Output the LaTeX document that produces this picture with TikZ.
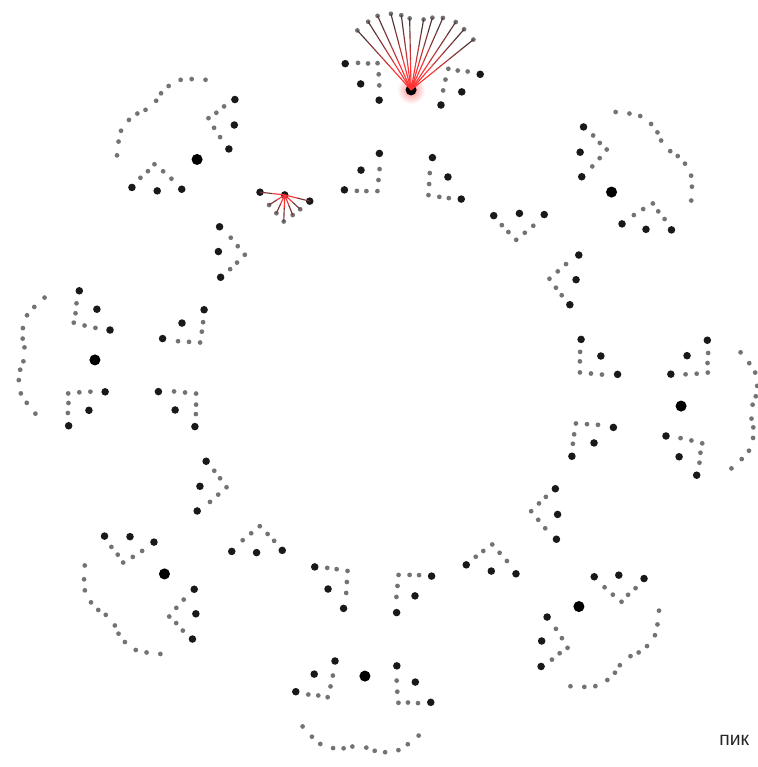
\documentclass[tikz,border=0pt]{standalone}
\usepackage{fontspec}
\newfontfamily\cyrfont{Liberation Sans}
\usetikzlibrary{calc}
\begin{document}
\begin{tikzpicture}[x=0.02cm,y=0.02cm,every node/.style={circle,inner sep=0pt},
  sdot/.style={fill=black!55,minimum size=2.7pt},
  bdot/.style={fill=black!90,minimum size=4.3pt},
  cdot/.style={fill=black,minimum size=6.3pt},
  thread/.style={line width=0.65pt}]
\useasboundingbox (-388,-384) rectangle (369,383);
\shade[inner color=red!45,outer color=white] (85.5:294) circle (8pt);
% eight petals, each mirrored about its own ray
\foreach \k [evaluate=\k as \ang using 85.5-45*\k] in {0,...,7}{
  \begin{scope}[rotate=\ang]
    \node[cdot] (c\k) at (294,0) {};
    \foreach \s/\n in {1/p,-1/m}{
      \begin{scope}[yscale=\s]
        % outer arc
        \foreach \u/\v [count=\i] in {349.1/58.2,358.6/48.1,365.2/39.2,368.3/26.1,367.7/15.6,365.2/7}
          \node[sdot] (a\k\n\i) at (\u,\v) {};
        % outer corner
        \foreach \u/\v/\st [count=\i] in {318/35.5/sdot,307/33.5/sdot,296/32/sdot,281.3/31/bdot,
            317/45/sdot,316.8/55/sdot,315/67.7/bdot,296/50.7/bdot}
          \node[\st] (o\k\n\i) at (\u,\v) {};
        % inner corner
        \node[bdot] (h\k\n) at (210.1,43.6) {};
        \foreach \u/\v/\st [count=\i] in {190.5/25.6/sdot,201.6/25.4/sdot,212.6/25.2/sdot,228.2/26.6/bdot,
            189.6/36.6/sdot,189.1/46.1/sdot,189.1/58.6/bdot}
          \node[\st] (l\k\n\i) at (\u,\v) {};
      \end{scope}
    }
  \end{scope}
}
% threads
\foreach \n in {p,m}
  \foreach \i in {1,...,6}
    \foreach \a/\b/\c in {0/.4/100,.4/.6/70,.6/.8/40,.8/1/15}
      \draw[thread,red!\c!black!80] ($(c0)!\a!(a0\n\i)$) -- ($(c0)!\b!(a0\n\i)$);
\foreach \i in {1,...,7}
  \foreach \a/\b/\c in {0/.5/100,.5/1/35}
    \draw[thread,red!\c!black!80] ($(h7m)!\a!(l7m\i)$) -- ($(h7m)!\b!(l7m\i)$);
\node[rectangle,anchor=base west,font=\cyrfont\fontsize{11}{13}\selectfont,text=black!85] (lbl) at (331,-362) {пик};
\end{tikzpicture}
\end{document}
